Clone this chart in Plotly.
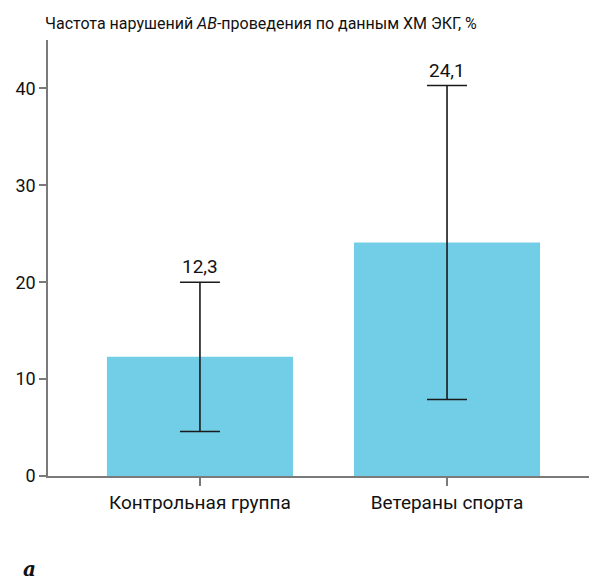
import plotly.graph_objects as go

categories = ["Контрольная группа", "Ветераны спорта"]
values = [12.3, 24.1]
errors = [7.7, 16.2]
value_labels = ["12,3", "24,1"]
y_ticks = [0, 10, 20, 30, 40]

FONT = "Roboto"

fig = go.Figure()
fig.add_trace(go.Bar(
    x=[0, 1], y=values, width=0.753,
    marker=dict(color="#72CDE6", line=dict(width=0)),
    error_y=dict(type="data", array=errors, visible=True, color="#1a1a1a",
                 thickness=1.6, width=20),
    hoverinfo="skip",
))

# page body adds an 8px offset; figure sized so the plot lands where the reference has it
fig.update_layout(
    width=589, height=575,
    margin=dict(l=40, r=0, t=32, b=107),
    plot_bgcolor="white", paper_bgcolor="white",
    showlegend=False,
    font=dict(family=FONT, size=18, color="#111"),
    xaxis=dict(range=[-0.615, 1.607], tickmode="array", tickvals=[0, 1],
               ticktext=categories, showgrid=False, zeroline=False, automargin=False,
               showline=True, linecolor="#7a7a7a", linewidth=1.5,
               ticks="outside", ticklen=8, tickwidth=1.5, tickcolor="#7a7a7a",
               tickfont=dict(family=FONT, size=19, color="#111")),
    yaxis=dict(range=[0, 45], tickmode="array", tickvals=y_ticks,
               showgrid=False, zeroline=False, automargin=False,
               showline=True, linecolor="#7a7a7a", linewidth=1.5,
               ticks="outside", ticklen=7, tickwidth=1.5, tickcolor="#7a7a7a",
               tickfont=dict(family=FONT, size=18, color="#111")),
)

for i, (v, e, lab) in enumerate(zip(values, errors, value_labels)):
    fig.add_annotation(x=i, y=v + e, text=lab, showarrow=False,
                       xref="x", yref="y", yanchor="bottom", yshift=2,
                       font=dict(family=FONT, size=19, color="#111"))

fig.add_annotation(x=0, y=1.0, xref="paper", yref="paper",
                   xanchor="left", yanchor="bottom", yshift=5, xshift=-5,
                   text="Частота нарушений <i>АВ</i>-проведения по данным ХМ ЭКГ, %",
                   showarrow=False, font=dict(family=FONT, size=16, color="#111"))

fig.add_annotation(x=0, y=0, xref="paper", yref="paper",
                   xanchor="left", yanchor="middle", xshift=-27, yshift=-93,
                   text="<b><i>a</i></b>", showarrow=False,
                   font=dict(family="DejaVu Serif", size=20, color="#111"))

fig.write_html("out.html")
